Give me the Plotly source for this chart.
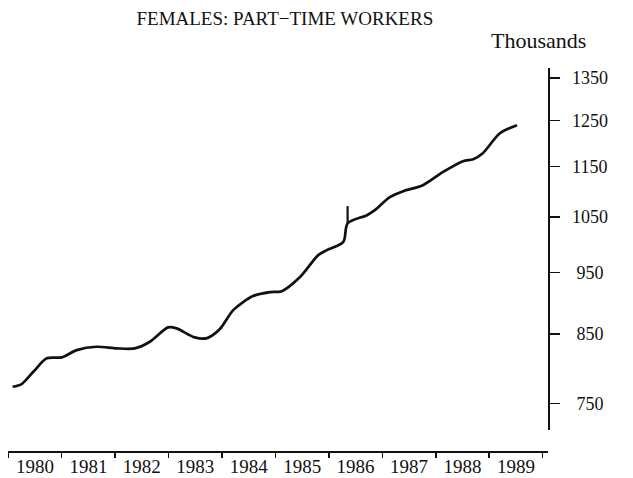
import math
import plotly.graph_objects as go

# Female part-time workers (thousands)
years = [1980.08, 1980.25, 1980.47, 1980.72, 1981.00, 1981.28, 1981.65, 1982.03,
         1982.37, 1982.65, 1982.99, 1983.15, 1983.49, 1983.72, 1983.96, 1984.21,
         1984.58, 1984.90, 1985.12, 1985.46, 1985.80, 1985.96, 1986.27, 1986.35,
         1986.71, 1986.86, 1987.14, 1987.39, 1987.76, 1988.13, 1988.51, 1988.70,
         1988.88, 1989.20, 1989.52]
values = [772.8, 776.6, 794.0, 813.5, 814.9, 825.7, 830.7, 828.3,
          828.3, 838.2, 860.3, 858.7, 844.9, 843.8, 857.7, 887.6,
          910.3, 916.9, 918.5, 942.1, 980.2, 989.1, 1004.0, 1038.0,
          1053.6, 1063.2, 1088.4, 1100.3, 1112.3, 1138.7, 1161.5, 1165.7,
          1178.4, 1221.7, 1239.5]

# series break spike in 1986
spike_years = [1986.35, 1986.35]
spike_values = [1038.0, 1070.9]

year_ticks = list(range(1980, 1991))
year_labels = ["1980", "1981", "1982", "1983", "1984", "1985", "1986", "1987", "1988", "1989"]
y_ticks = [750, 850, 950, 1050, 1150, 1250, 1350]
y_labels = [" 750", " 850", " 950", "1050", "1150", "1250", "1350"]

FONT = "Liberation Serif"
INK = "#111111"

fig = go.Figure()
fig.add_trace(go.Scatter(x=years, y=values, mode="lines",
                         line=dict(color=INK, width=2.7, shape="spline", smoothing=0.8),
                         hoverinfo="skip", showlegend=False))
fig.add_trace(go.Scatter(x=spike_years, y=spike_values, mode="lines",
                         line=dict(color=INK, width=2.2),
                         hoverinfo="skip", showlegend=False))

fig.update_layout(
    width=633, height=478,
    margin=dict(l=8, r=85, t=68, b=27, autoexpand=False),
    paper_bgcolor="white", plot_bgcolor="white",
    title=dict(text="FEMALES: PART\u2212TIME WORKERS", x=0.45, xanchor="center",
               y=0.962, yanchor="middle", font=dict(family=FONT, size=19, color=INK)),
    xaxis=dict(range=[1979.995, 1990.1], anchor="free", position=0, automargin=False,
               showline=True, linecolor=INK, linewidth=1.5,
               showgrid=False, zeroline=False,
               tickmode="array", tickvals=[y + 0.5 for y in year_ticks[:-1]],
               ticktext=year_labels, ticks="", ticklabelstandoff=-2,
               tickfont=dict(family=FONT, size=19, color=INK),
               minor=dict(tickmode="array", tickvals=year_ticks, ticks="outside",
                          ticklen=5, tickcolor=INK, tickwidth=1.5, showgrid=False)),
    yaxis=dict(type="log", range=[math.log10(714.7), math.log10(1374.5)],
               domain=[0.0548, 1], side="right", automargin=False,
               showline=True, linecolor=INK, linewidth=1.5,
               showgrid=False, zeroline=False,
               tickmode="array", tickvals=y_ticks, ticktext=y_labels,
               ticks="outside", ticklen=10, tickcolor=INK, tickwidth=1.5,
               ticklabelstandoff=9,
               tickfont=dict(family=FONT, size=18, color=INK)),
    annotations=[dict(text="Thousands", xref="paper", yref="paper",
                      x=0.983, y=1.073, xanchor="center", yanchor="middle",
                      showarrow=False, font=dict(family=FONT, size=22, color=INK))],
)

fig.write_html("out.html", config={"displayModeBar": False, "staticPlot": True},
               post_script="document.body.style.margin='0';document.body.style.overflow='hidden';")
